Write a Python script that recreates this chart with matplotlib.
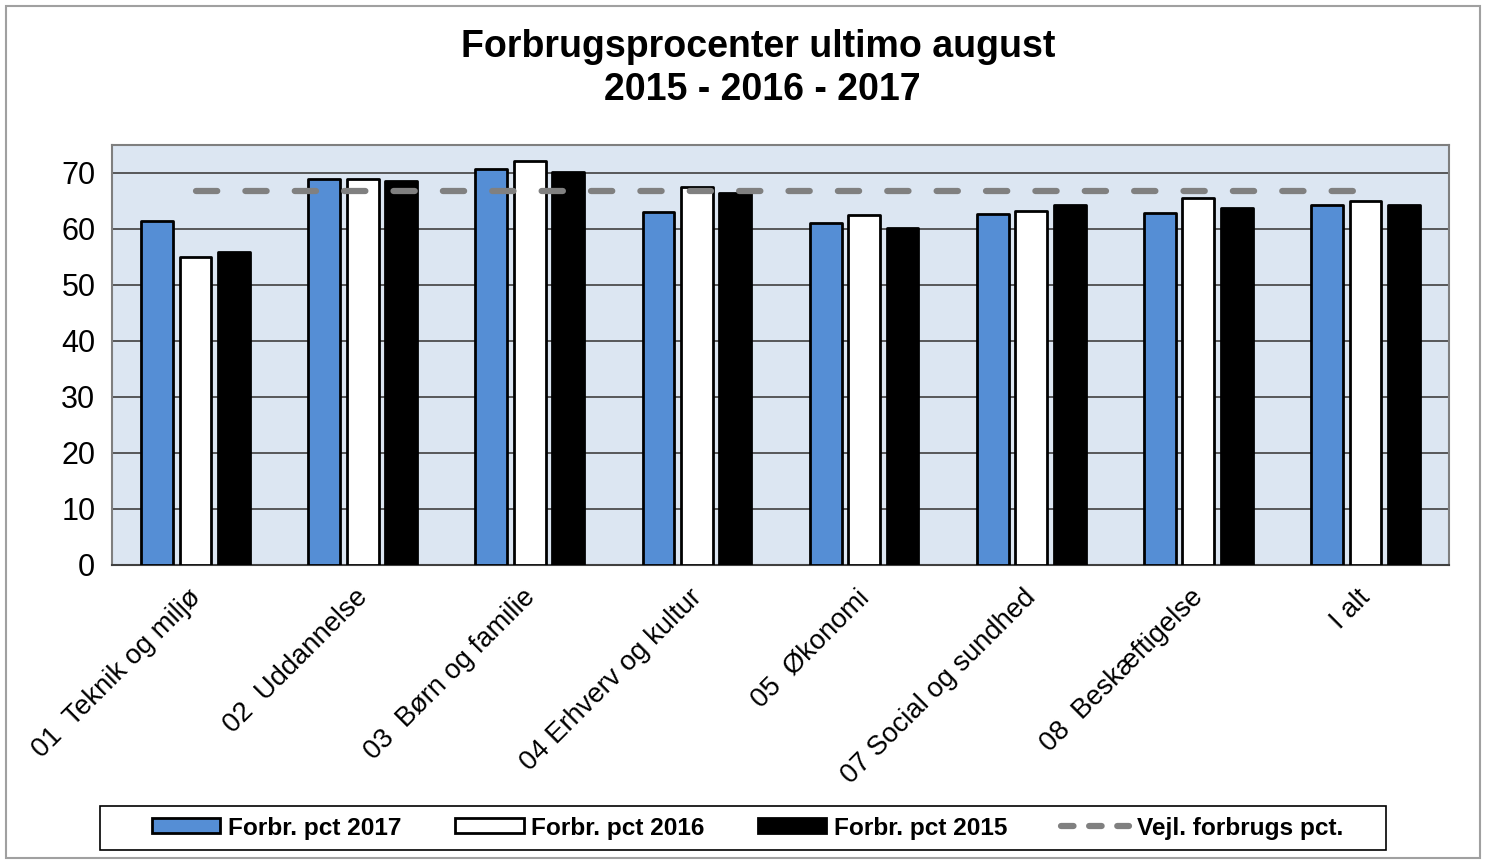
import matplotlib
matplotlib.use("Agg")
import matplotlib.pyplot as plt
import numpy as np
from matplotlib.patches import Rectangle
from matplotlib.lines import Line2D

plt.rcParams['font.family'] = ['Liberation Sans', 'DejaVu Sans']

categories = ["01  Teknik og miljø", "02  Uddannelse", "03  Børn og familie",
              "04 Erhverv og kultur", "05  Økonomi", "07 Social og sundhed",
              "08  Beskæftigelse", "I alt"]
pct_2017 = [61.5, 68.9, 70.8, 63.0, 61.0, 62.7, 62.9, 64.2]
pct_2016 = [55.0, 68.9, 72.2, 67.5, 62.5, 63.2, 65.6, 65.0]
pct_2015 = [55.9, 68.5, 70.2, 66.5, 60.2, 64.3, 63.8, 64.3]
vejl = [66.7] * len(categories)
series_labels = ["Forbr. pct 2017", "Forbr. pct 2016", "Forbr. pct 2015", "Vejl. forbrugs pct."]

fig = plt.figure(figsize=(14.86, 8.63), dpi=100)
ax = fig.add_axes([112/1486, 1-565/863, (1449-112)/1486, (565-145)/863])
ax.set_facecolor('#DCE6F2')

x = np.arange(len(categories))
w = 0.19
off = 0.23
kw = dict(edgecolor='black', linewidth=2, zorder=3, joinstyle='round')
b1 = ax.bar(x - off, pct_2017, w, color='#558ED5', **kw)
b2 = ax.bar(x, pct_2016, w, color='white', **kw)
b3 = ax.bar(x + off, pct_2015, w, color='black', **kw)
ln, = ax.plot(x, vejl, color='#808080', linewidth=4.5, dashes=(3.4, 4.5),
              dash_capstyle='round', zorder=4)

ax.set_xlim(-0.5, len(categories) - 0.5)
ax.set_ylim(0, 75)
ax.set_yticks(range(0, 80, 10))
ax.yaxis.grid(True, color='#404040', linewidth=1.2, zorder=0)
ax.set_axisbelow(True)
ax.tick_params(axis='y', labelsize=22, length=0, pad=12)
ax.tick_params(axis='x', length=0, pad=6)
ax.set_xticks(x)
ax.set_xticklabels(categories, rotation=45, ha='right', va='top',
                   rotation_mode='anchor', fontsize=19.7)
for t in ax.get_xticklabels():
    t.set_transform(t.get_transform() + matplotlib.transforms.ScaledTranslation(-0.08, -0.11, fig.dpi_scale_trans))
for s in ['top', 'right', 'left']:
    ax.spines[s].set_color('#7F7F7F')
    ax.spines[s].set_linewidth(1.5)
ax.spines['bottom'].set_color('#404040')
ax.spines['bottom'].set_linewidth(1.5)

fig.text(0.51, 1-47/863, "Forbrugsprocenter ultimo august", ha='center', va='center',
         fontsize=27, fontweight='bold')
fig.text(0.513, 1-90/863, "2015 - 2016 - 2017", ha='center', va='center',
         fontsize=27, fontweight='bold')

handles = [Rectangle((0, 0), 1, 1, facecolor='#558ED5', edgecolor='black', linewidth=2),
           Rectangle((0, 0), 1, 1, facecolor='white', edgecolor='black', linewidth=2),
           Rectangle((0, 0), 1, 1, facecolor='black', edgecolor='black', linewidth=2),
           Line2D([0], [0], color='#808080', linewidth=4.5, dashes=(2.0, 2.5), dash_capstyle='round')]
leg = fig.legend(handles, series_labels, loc='center',
                 bbox_to_anchor=(747.5/1486, 1-828/863), ncol=4,
                 prop={'size': 17.6, 'weight': 'bold'}, frameon=False,
                 handlelength=2.8, handleheight=0.55,
                 handletextpad=0.3, columnspacing=2.2, borderpad=0.35,
                 borderaxespad=0)
fig.patches.append(Rectangle((100/1486, 1-850/863), 1286/1486, 44/863, transform=fig.transFigure,
                             fill=False, edgecolor='black', linewidth=1.2))

fig.patches.append(Rectangle((6/1486, 1-858/863), 1474/1486, 852/863, transform=fig.transFigure,
                             fill=False, edgecolor='#A0A0A0', linewidth=1.5))

fig.savefig("out.png", dpi=100)
